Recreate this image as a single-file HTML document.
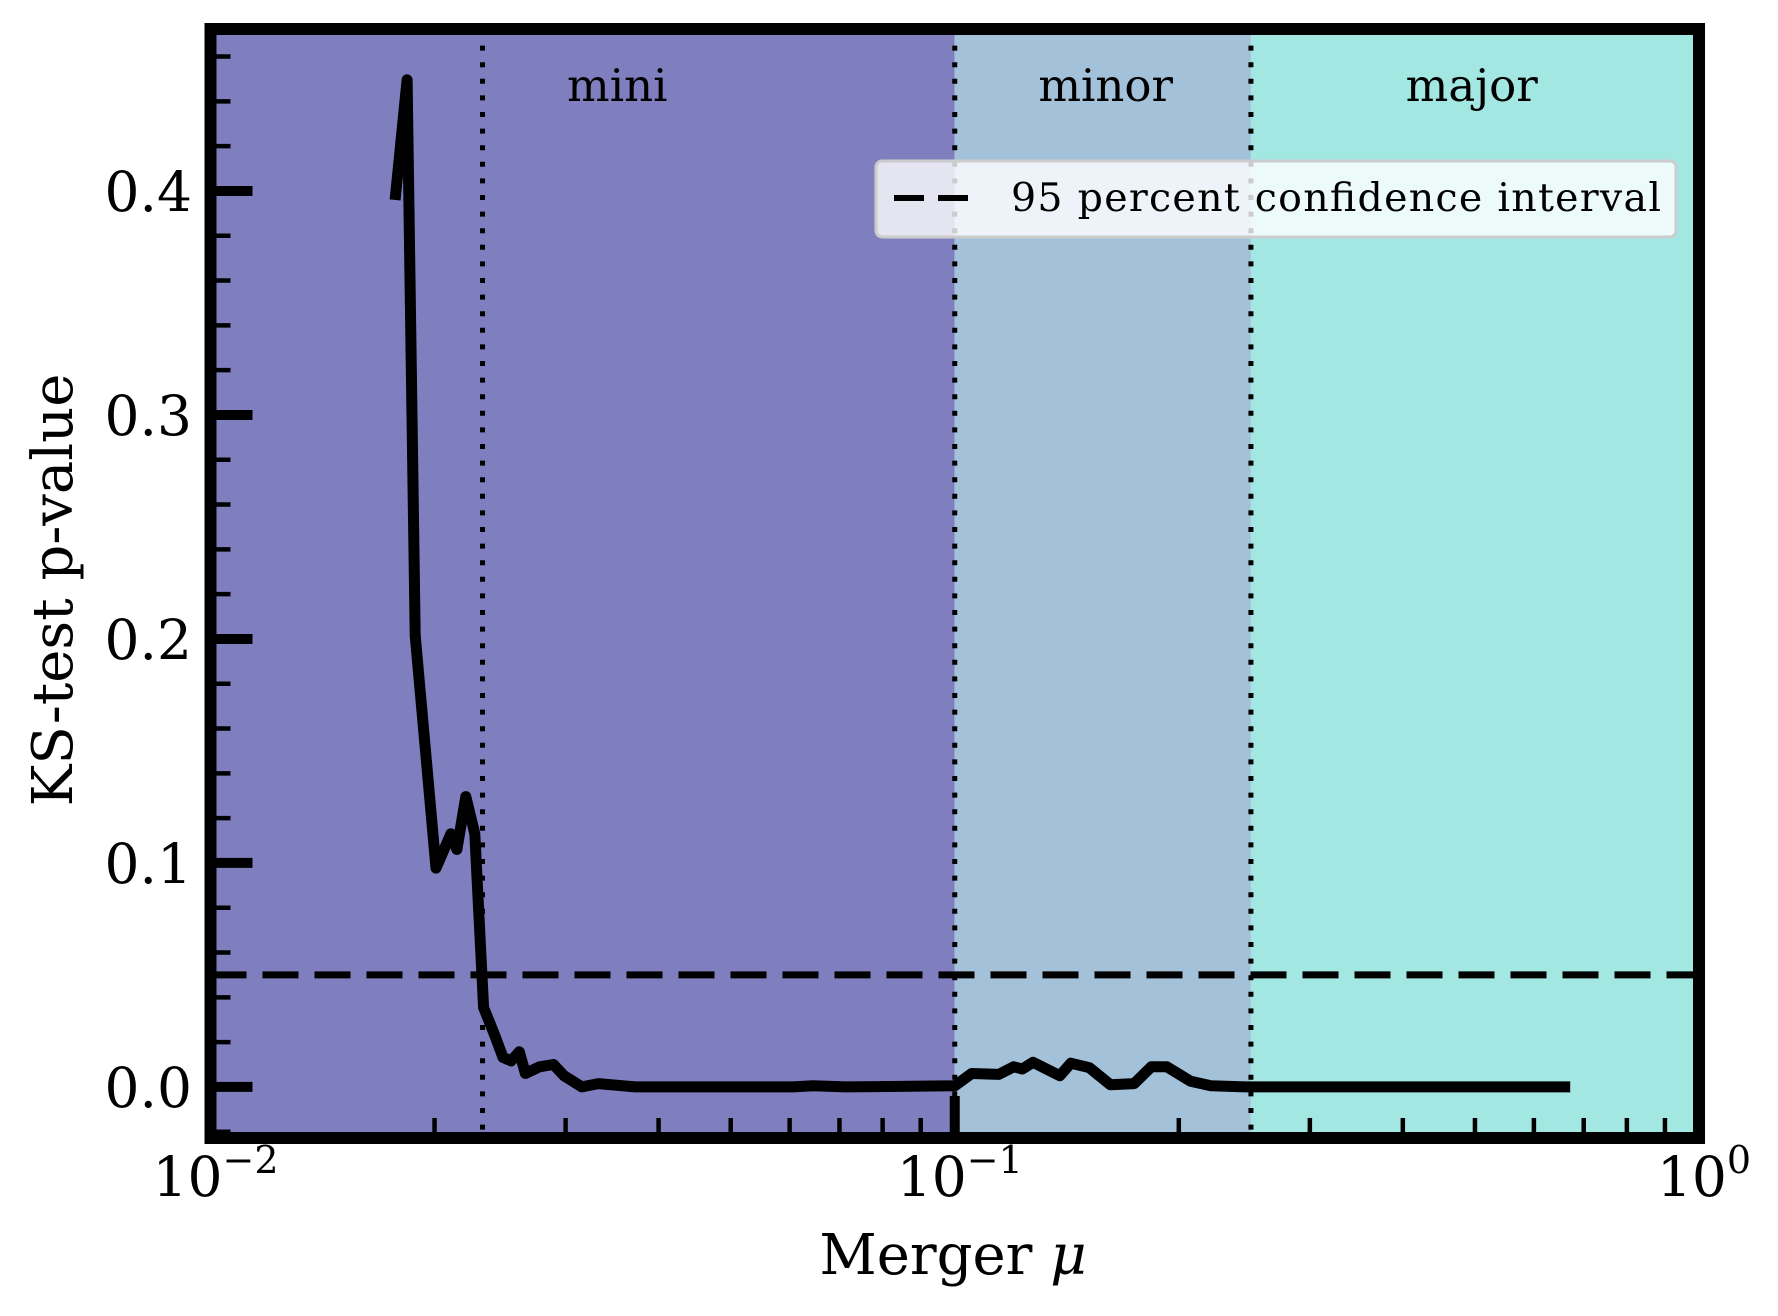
<!DOCTYPE html>
<html><head><meta charset="utf-8">
<style>
html,body{margin:0;padding:0;background:#fff;}
svg{display:block;}
text{font-family:"DejaVu Serif","Liberation Serif",serif;fill:#000;}
</style></head>
<body>
<svg id="chart" width="1778" height="1316" viewBox="0 0 1778 1316" xmlns="http://www.w3.org/2000/svg">
<g id="regions"></g>
<g id="ticks"></g>
<g id="refs"></g>
<g id="series"></g>
<g id="labels"></g>
<g id="legend">
  <rect x="876" y="161" width="800" height="76" rx="6" fill="rgba(255,255,255,0.8)" stroke="#cccccc" stroke-width="3"/>
  <line x1="894" y1="198" x2="968" y2="198" stroke="#000" stroke-width="6" stroke-dasharray="30,14"/>
  <text x="1011" y="211" font-size="39.5" textLength="650">95 percent confidence interval</text>
</g>
<text transform="translate(72,590) rotate(-90)" text-anchor="middle" font-size="56">KS-test p-value</text>
<text x="953" y="1274" text-anchor="middle" font-size="56">Merger <tspan font-style="italic">μ</tspan></text>
<rect x="210.5" y="29" width="1488.5" height="1109" fill="none" stroke="#000" stroke-width="12"/>
</svg>
<script>
// data
const muValues = [0.0177,0.01837,0.01884,0.02009,0.02104,0.02143,0.02203,0.02265,0.02328,0.0241,0.02472,0.02535,0.026,0.02649,0.02767,0.0289,0.02985,0.03155,0.0332,0.0372,0.045,0.0607,0.0645,0.0712,0.1,0.1054,0.1146,0.12,0.1233,0.1274,0.1384,0.1432,0.1517,0.1618,0.1742,0.1837,0.1928,0.2075,0.2208,0.2455,0.3483,0.6714];
const pValues = [0.396,0.4496,0.2015,0.0977,0.113,0.106,0.1296,0.113,0.0354,0.023,0.0132,0.0116,0.0157,0.006,0.009,0.010,0.005,0.0,0.0015,0.0,0.0,0.0,0.0005,0.0,0.0005,0.006,0.0056,0.009,0.008,0.011,0.005,0.0106,0.0086,0.001,0.0015,0.009,0.009,0.0025,0.0005,0.0,0.0,0.0];
const regionBounds = [0.01, 0.1, 0.25, 1.0];
const regionNames = ["mini","minor","major"];
const regionColors = ["#7f7fbf","#a3c1d9","#a3e7e3"];
const regionLabelMu = [0.0352, 0.1595, 0.495];
const boundaryMu = [0.0232, 0.1, 0.25];
const confidenceLevel = 0.05;
const yTickValues = [0.0,0.1,0.2,0.3,0.4];
const yTickLabels = ["0.0","0.1","0.2","0.3","0.4"];
const xDecades = [-2,-1,0];

const L=210.5,R=1699,T=29,B=1138;
const xMin=-2,xMax=0,yMin=-0.0228,yMax=0.4723;
const NS="http://www.w3.org/2000/svg";
function xs(v){return L+(Math.log10(v)-xMin)/(xMax-xMin)*(R-L);}
function ys(v){return B-(v-yMin)/(yMax-yMin)*(B-T);}
function mk(tag,attrs,parent){const e=document.createElementNS(NS,tag);for(const k in attrs)e.setAttribute(k,attrs[k]);parent.appendChild(e);return e;}

const gR=document.getElementById('regions');
for(let i=0;i<regionNames.length;i++){
  const r=mk('rect',{x:xs(regionBounds[i]),y:T,width:xs(regionBounds[i+1])-xs(regionBounds[i]),height:B-T,fill:regionColors[i]},gR);
  
  
  const t=mk('text',{x:xs(regionLabelMu[i]),y:101,'text-anchor':'middle','font-size':'45'},gR);
  t.textContent=regionNames[i];
  
  
}
const gRef=document.getElementById('refs');
boundaryMu.forEach(b=>{
  const l=mk('line',{x1:xs(b),x2:xs(b),y1:T,y2:B,stroke:'#000','stroke-width':'5','stroke-dasharray':'5,11.6'},gRef);
  
  
});
const cl=mk('line',{x1:L,x2:R,y1:ys(confidenceLevel),y2:ys(confidenceLevel),stroke:'#000','stroke-width':'7','stroke-dasharray':'36,16'},gRef);



const gT=document.getElementById('ticks');
for(let k=-1;k<=23;k++){
  const v=k*0.02; const y=ys(v); if(y<T+6||y>B-6)continue;
  const t=mk('line',{x1:L,x2:L+20,y1:y,y2:y,stroke:'#000','stroke-width':'4.5'},gT);
  
  
}
yTickValues.forEach(v=>{
  const t=mk('line',{x1:L,x2:L+42,y1:ys(v),y2:ys(v),stroke:'#000','stroke-width':'10'},gT);
  
  
});
xDecades.forEach(d=>{
  for(let m=2;m<=9;m++){
    const v=m*Math.pow(10,d); if(Math.log10(v)>=xMax)continue;
    const t=mk('line',{x1:xs(v),x2:xs(v),y1:B,y2:B-20,stroke:'#000','stroke-width':'4.5'},gT);
    
    
  }
  const x=xs(Math.pow(10,d));
  const t=mk('line',{x1:x,x2:x,y1:B,y2:B-42,stroke:'#000','stroke-width':'10'},gT);
  
  
});

const gS=document.getElementById('series');
const pts=muValues.map((m,i)=>xs(m).toFixed(1)+','+ys(pValues[i]).toFixed(1)).join(' ');
const pl=mk('polyline',{points:pts,fill:'none',stroke:'#000','stroke-width':'11','stroke-linejoin':'round'},gS);



const gL=document.getElementById('labels');
yTickValues.forEach((v,i)=>{
  const t=mk('text',{x:192,y:ys(v)+20,'text-anchor':'end','font-size':'55'},gL);
  t.textContent=yTickLabels[i];
  
  
});
xDecades.forEach(d=>{
  const t=mk('text',{x:xs(Math.pow(10,d))+5,y:1196,'text-anchor':'middle','font-size':'55'},gL);
  t.textContent='10';
  const s=mk('tspan',{dy:'-23','font-size':'38'},t);
  s.textContent=(d<0?'\u2212':'')+Math.abs(d);
  
  
});
</script>
</body></html>
